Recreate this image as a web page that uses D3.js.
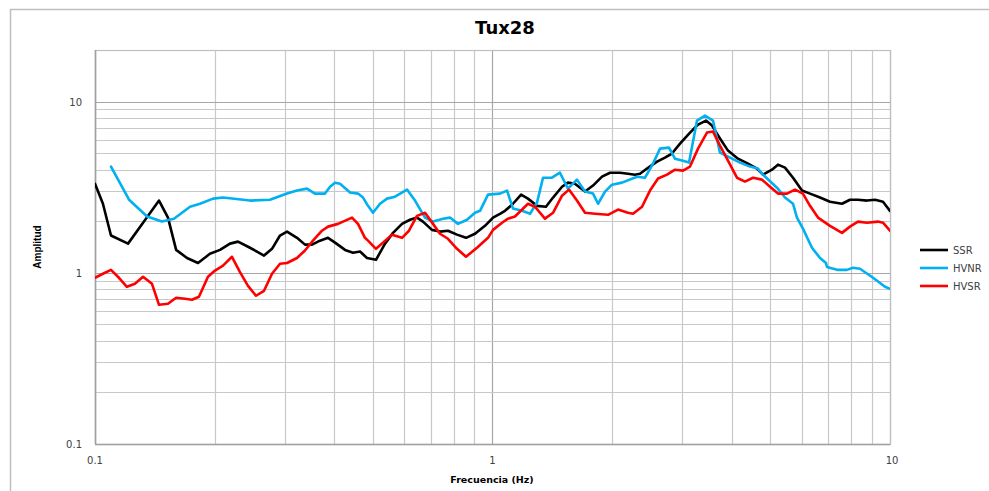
<!DOCTYPE html>
<html>
<head>
<meta charset="utf-8">
<script src="https://cdn.jsdelivr.net/npm/d3@7"></script>
<style>
  body { margin: 0; background: #fff; }
  svg { display: block; }
</style>
</head>
<body>
<svg id="chart" width="989" height="491"></svg>
<script>
// values (frequency Hz, amplitude)
const ssr = [
  [0.1, 3.31], [0.1047, 2.53], [0.1097, 1.65], [0.1211, 1.48], [0.1321, 1.96], [0.1449, 2.64],
  [0.1526, 2.10], [0.160, 1.36], [0.1704, 1.22], [0.1816, 1.14], [0.1946, 1.29], [0.2063, 1.36],
  [0.2186, 1.48], [0.2290, 1.52], [0.2454, 1.40], [0.2662, 1.26], [0.2788, 1.38], [0.2920, 1.65],
  [0.3041, 1.74], [0.3222, 1.60], [0.3375, 1.46], [0.3515, 1.46], [0.3681, 1.54], [0.3857, 1.60],
  [0.4017, 1.50], [0.4256, 1.36], [0.4458, 1.31], [0.4642, 1.33], [0.4834, 1.22], [0.5092, 1.19],
  [0.5366, 1.48], [0.5620, 1.71], [0.5920, 1.93], [0.6201, 2.04], [0.6457, 2.10], [0.6685, 1.99],
  [0.7042, 1.78], [0.7376, 1.74], [0.7726, 1.76], [0.8141, 1.67], [0.8577, 1.60], [0.9036, 1.69],
  [0.9574, 1.88], [1.003, 2.10], [1.044, 2.21], [1.075, 2.30], [1.126, 2.53], [1.180, 2.86],
  [1.228, 2.71], [1.294, 2.46], [1.363, 2.43], [1.420, 2.75], [1.496, 3.18], [1.548, 3.36],
  [1.612, 3.31], [1.709, 2.98], [1.790, 3.23], [1.886, 3.64], [1.975, 3.84], [2.093, 3.84],
  [2.192, 3.79], [2.283, 3.74], [2.350, 3.79], [2.447, 4.06], [2.593, 4.46], [2.716, 4.70],
  [2.828, 4.97], [2.963, 5.68], [3.140, 6.59], [3.289, 7.34], [3.444, 7.74], [3.566, 7.24],
  [3.735, 6.08], [3.912, 5.17], [4.145, 4.64], [4.392, 4.34], [4.627, 4.06], [4.791, 3.74],
  [5.047, 4.00], [5.226, 4.28], [5.443, 4.11], [5.702, 3.59], [6.006, 3.02], [6.292, 2.90],
  [6.667, 2.75], [7.064, 2.60], [7.572, 2.53], [7.931, 2.67], [8.307, 2.67], [8.752, 2.64],
  [9.170, 2.67], [9.603, 2.60], [10, 2.30]
];

const hvnr = [
  [0.1097, 4.17], [0.1218, 2.67], [0.1352, 2.13], [0.1474, 1.99], [0.1580, 2.07], [0.1734, 2.43],
  [0.1837, 2.53], [0.1982, 2.71], [0.2099, 2.75], [0.2454, 2.64], [0.2756, 2.67], [0.3041, 2.90],
  [0.3222, 3.02], [0.3414, 3.10], [0.3576, 2.90], [0.3790, 2.90], [0.3902, 3.18], [0.4017, 3.36],
  [0.4135, 3.31], [0.4381, 2.94], [0.4588, 2.90], [0.4724, 2.75], [0.4862, 2.46], [0.5005, 2.24],
  [0.5212, 2.53], [0.5427, 2.71], [0.5685, 2.78], [0.6094, 3.06], [0.6383, 2.64], [0.6765, 2.10],
  [0.7086, 1.99], [0.7508, 2.07], [0.7819, 2.10], [0.8190, 1.93], [0.8627, 2.04], [0.9036, 2.24],
  [0.9302, 2.30], [0.9743, 2.86], [1.044, 2.90], [1.088, 3.02], [1.126, 2.37], [1.187, 2.30],
  [1.243, 2.21], [1.294, 2.57], [1.340, 3.59], [1.411, 3.59], [1.478, 3.84], [1.548, 3.10],
  [1.631, 3.50], [1.709, 2.98], [1.790, 2.90], [1.843, 2.53], [1.919, 2.98], [1.998, 3.27],
  [2.117, 3.36], [2.310, 3.64], [2.418, 3.59], [2.519, 4.22], [2.639, 5.31], [2.780, 5.38],
  [2.878, 4.64], [2.998, 4.52], [3.122, 4.40], [3.270, 7.74], [3.424, 8.28], [3.587, 7.74],
  [3.735, 5.03], [3.958, 4.70], [4.195, 4.40], [4.444, 4.17], [4.654, 4.06], [4.764, 3.79],
  [5.196, 3.14], [5.443, 2.75], [5.702, 2.53], [5.834, 2.10], [6.039, 1.81], [6.364, 1.40],
  [6.667, 1.22], [6.902, 1.14], [6.942, 1.08], [7.356, 1.04], [7.795, 1.04], [8.071, 1.07],
  [8.405, 1.055], [9.064, 0.935], [9.714, 0.828], [10, 0.806]
];

const hvsr = [
  [0.1, 0.935], [0.1047, 0.987], [0.1097, 1.04], [0.1149, 0.935], [0.1203, 0.828], [0.1260, 0.862],
  [0.1321, 0.948], [0.1391, 0.862], [0.1449, 0.650], [0.1526, 0.659], [0.1600, 0.714], [0.1684, 0.705],
  [0.1754, 0.696], [0.1826, 0.724], [0.1924, 0.948], [0.2004, 1.03], [0.2099, 1.10], [0.2211, 1.24],
  [0.2316, 1.01], [0.2426, 0.839], [0.2541, 0.734], [0.2662, 0.785], [0.2788, 0.987], [0.2920, 1.13],
  [0.3041, 1.14], [0.3222, 1.22], [0.3375, 1.35], [0.3535, 1.54], [0.3724, 1.76], [0.3857, 1.86],
  [0.4087, 1.93], [0.4431, 2.10], [0.4588, 1.93], [0.4777, 1.60], [0.4862, 1.54], [0.5092, 1.38],
  [0.5303, 1.50], [0.5586, 1.67], [0.5920, 1.60], [0.6165, 1.76], [0.6457, 2.15], [0.6765, 2.24],
  [0.7086, 1.93], [0.7376, 1.69], [0.7726, 1.58], [0.8141, 1.38], [0.8577, 1.24], [0.9141, 1.40],
  [0.9743, 1.60], [1.003, 1.78], [1.057, 1.96], [1.094, 2.07], [1.139, 2.13], [1.187, 2.34],
  [1.228, 2.53], [1.279, 2.43], [1.355, 2.07], [1.420, 2.24], [1.496, 2.82], [1.557, 3.06],
  [1.631, 2.64], [1.709, 2.24], [1.811, 2.21], [1.953, 2.18], [2.069, 2.34], [2.192, 2.24],
  [2.257, 2.21], [2.378, 2.43], [2.490, 3.02], [2.609, 3.55], [2.748, 3.74], [2.878, 4.00],
  [3.015, 3.95], [3.140, 4.17], [3.289, 5.31], [3.464, 6.59], [3.587, 6.68], [3.735, 5.53],
  [3.912, 4.52], [4.121, 3.59], [4.317, 3.41], [4.522, 3.59], [4.764, 3.50], [4.990, 3.18],
  [5.226, 2.90], [5.507, 2.90], [5.768, 3.06], [6.039, 2.90], [6.292, 2.46], [6.590, 2.10],
  [7.064, 1.88], [7.572, 1.71], [7.931, 1.86], [8.307, 1.99], [8.752, 1.96], [9.329, 1.99],
  [9.603, 1.96], [10, 1.76]
];

const seriesNames = ["SSR", "HVNR", "HVSR"];
const seriesColors = ["#000000", "#00b0f0", "#ff0000"];
const seriesData = [ssr, hvnr, hvsr];

const xTickLabels = [0.1, 1, 10];
const yTickLabels = [0.1, 1, 10];

const svg = d3.select("#chart");
const W = 989, H = 491;
const plot = { left: 95, right: 890, top: 50, bottom: 444 };

// outer frame (cut off at right/bottom like the original)
svg.append("rect")
  .attr("x", 10.5).attr("y", 9.5)
  .attr("width", W).attr("height", H)
  .attr("fill", "#fff")
  .attr("stroke", "#bfbfbf")
  .attr("stroke-width", 1.5);

const x = d3.scaleLog().domain([0.1, 10]).range([plot.left, plot.right]);
const y = d3.scaleLog().domain([0.1, 20]).range([plot.bottom, plot.top]);

const grid = svg.append("g");

// vertical grid
x.ticks().forEach(v => {
  const major = xTickLabels.includes(v);
  grid.append("line")
    .attr("x1", Math.round(x(v)) + 0.5).attr("x2", Math.round(x(v)) + 0.5)
    .attr("y1", plot.top).attr("y2", plot.bottom)
    .attr("stroke", major ? "#a6a6a6" : "#c8c8c8")
    .attr("stroke-width", 1.2);
});

// horizontal grid
y.ticks().forEach(v => {
  const major = yTickLabels.includes(v);
  grid.append("line")
    .attr("x1", plot.left).attr("x2", plot.right)
    .attr("y1", Math.round(y(v)) + 0.5).attr("y2", Math.round(y(v)) + 0.5)
    .attr("stroke", major ? "#a6a6a6" : "#c8c8c8")
    .attr("stroke-width", 1.2);
});

// plot border
svg.append("rect")
  .attr("x", plot.left + 0.5).attr("y", plot.top + 0.5)
  .attr("width", plot.right - plot.left).attr("height", plot.bottom - plot.top)
  .attr("fill", "none")
  .attr("stroke", "#bfbfbf")
  .attr("stroke-width", 1.2);

// axes lines
svg.append("line")
  .attr("x1", plot.left + 0.5).attr("x2", plot.left + 0.5)
  .attr("y1", plot.top).attr("y2", plot.bottom)
  .attr("stroke", "#a0a0a0").attr("stroke-width", 1.5);
svg.append("line")
  .attr("x1", plot.left).attr("x2", plot.right)
  .attr("y1", plot.bottom + 0.5).attr("y2", plot.bottom + 0.5)
  .attr("stroke", "#a0a0a0").attr("stroke-width", 1.5);

const fmt = d => String(d);

// tick labels
svg.append("g").selectAll("text")
  .data(yTickLabels)
  .join("text")
  .attr("x", 82)
  .attr("y", d => y(d) + 4)
  .attr("text-anchor", "end")
  .attr("font-family", "DejaVu Sans, Verdana, sans-serif")
  .attr("font-size", 10)
  .attr("fill", "#404040")
  .text(fmt);

svg.append("g").selectAll("text")
  .data(xTickLabels)
  .join("text")
  .attr("x", d => x(d) + (d === 10 ? 2 : 0))
  .attr("y", 464)
  .attr("text-anchor", "middle")
  .attr("font-family", "DejaVu Sans, Verdana, sans-serif")
  .attr("font-size", 10)
  .attr("fill", "#404040")
  .text(fmt);

// title and axis titles
svg.append("text")
  .attr("x", 505).attr("y", 34)
  .attr("text-anchor", "middle")
  .attr("font-family", "DejaVu Sans, Verdana, sans-serif")
  .attr("font-weight", "bold")
  .attr("font-size", 18)
  .text("Tux28");

svg.append("text")
  .attr("x", 492).attr("y", 483)
  .attr("text-anchor", "middle")
  .attr("font-family", "DejaVu Sans, Verdana, sans-serif")
  .attr("font-weight", "bold")
  .attr("font-size", 9.5)
  .text("Frecuencia (Hz)");

svg.append("text")
  .attr("transform", "translate(41,247) rotate(-90)")
  .attr("text-anchor", "middle")
  .attr("font-family", "Liberation Sans Narrow, Arial Narrow, sans-serif")
  .attr("font-weight", "bold")
  .attr("font-size", 10)
  .text("Amplitud");

// clip and series
svg.append("clipPath").attr("id", "clip")
  .append("rect")
  .attr("x", plot.left).attr("y", plot.top)
  .attr("width", plot.right - plot.left).attr("height", plot.bottom - plot.top);

const line = d3.line()
  .x(d => x(d[0]))
  .y(d => y(d[1]));

svg.append("g").attr("clip-path", "url(#clip)")
  .selectAll("path")
  .data(seriesData)
  .join("path")
  .attr("d", line)
  .attr("fill", "none")
  .attr("stroke", (d, i) => seriesColors[i])
  .attr("stroke-width", 2.6)
  .attr("stroke-linejoin", "round")
  .attr("stroke-linecap", "round");

// legend
const legend = svg.append("g").attr("transform", "translate(920,250)");
seriesNames.forEach((name, i) => {
  const g = legend.append("g").attr("transform", `translate(0,${i * 18})`);
  g.append("line")
    .attr("x1", 0).attr("x2", 28)
    .attr("y1", 0).attr("y2", 0)
    .attr("stroke", seriesColors[i])
    .attr("stroke-width", 2.6);
  g.append("text")
    .attr("x", 33).attr("y", 4)
    .attr("font-family", "DejaVu Sans, Verdana, sans-serif")
    .attr("font-size", 10)
    .attr("fill", "#404040")
    .text(name);
});
</script>
</body>
</html>
